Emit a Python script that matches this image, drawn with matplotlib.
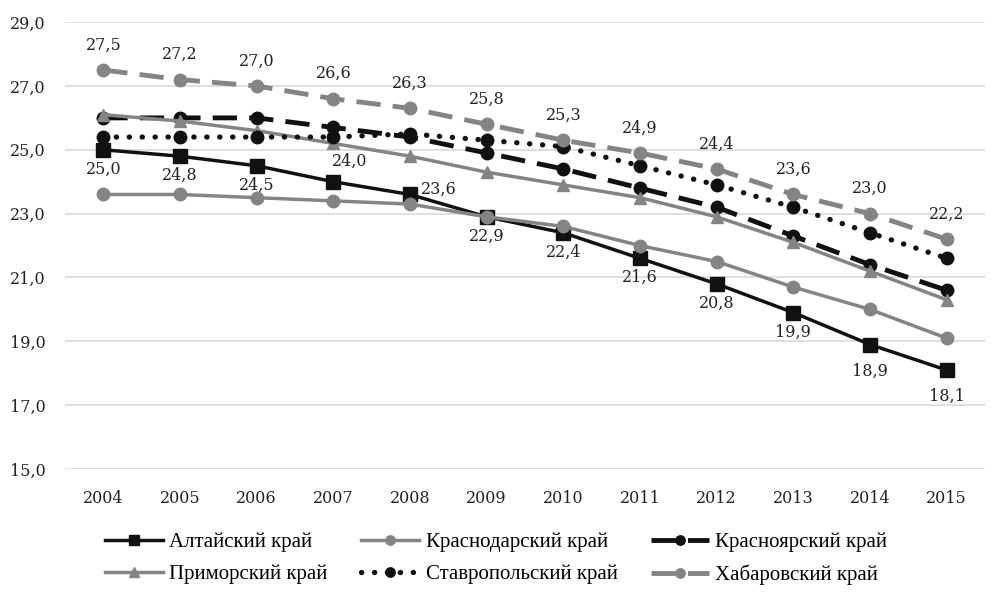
import matplotlib.pyplot as plt

years = [str(y) for y in range(2004, 2016)]

altai = [25.0, 24.8, 24.5, 24.0, 23.6, 22.9, 22.4, 21.6, 20.8, 19.9, 18.9, 18.1]
krasnodar = [23.6, 23.6, 23.5, 23.4, 23.3, 22.9, 22.6, 22.0, 21.5, 20.7, 20.0, 19.1]
krasnoyarsk = [26.0, 26.0, 26.0, 25.7, 25.4, 24.9, 24.4, 23.8, 23.2, 22.3, 21.4, 20.6]
primorye = [26.1, 25.9, 25.6, 25.2, 24.8, 24.3, 23.9, 23.5, 22.9, 22.1, 21.2, 20.3]
stavropol = [25.4, 25.4, 25.4, 25.4, 25.5, 25.3, 25.1, 24.5, 23.9, 23.2, 22.4, 21.6]
khabarovsk = [27.5, 27.2, 27.0, 26.6, 26.3, 25.8, 25.3, 24.9, 24.4, 23.6, 23.0, 22.2]

yticks = [15, 17, 19, 21, 23, 25, 27, 29]

BLACK = '#111111'
GRAY = '#848484'


def fmt(v):
    return f"{v:.1f}".replace('.', ',')


fig = plt.figure(figsize=(10, 5.98), dpi=100)
ax = fig.add_axes([0.065, 0.2157, 0.92, 0.7473])
x = list(range(len(years)))

h_alt, = ax.plot(x, altai, color=BLACK, lw=2.5, marker='s', ms=10,
                 label='Алтайский край')
h_kd, = ax.plot(x, krasnodar, color=GRAY, lw=2.5, marker='o', ms=9,
                label='Краснодарский край')
h_ky, = ax.plot(x, krasnoyarsk, color=BLACK, lw=3.5, marker='o', ms=9,
                dashes=(5, 2.5), label='Красноярский край')
h_pr, = ax.plot(x, primorye, color=GRAY, lw=2.5, marker='^', ms=9,
                label='Приморский край')
h_st, = ax.plot(x, stavropol, color=BLACK, lw=3.8, marker='o', ms=9,
                linestyle=(0, (0.05, 2.4)), dash_capstyle='round',
                label='Ставропольский край')
h_kh, = ax.plot(x, khabarovsk, color=GRAY, lw=3.5, marker='o', ms=9,
                dashes=(5, 2.5), label='Хабаровский край')

lab_font = dict(family='DejaVu Serif', size=11.5, color='#222222')
for i, v in enumerate(altai):
    if i == 3:
        off, ha = (12, 15), 'center'
    elif i == 4:
        off, ha = (8, 4), 'left'
    elif i >= 10:
        off, ha = (0, -19), 'center'
    else:
        off, ha = (0, -14), 'center'
    ax.annotate(fmt(v), (i, v), xytext=off, textcoords='offset points',
                ha=ha, va='center', **lab_font)
for i, v in enumerate(khabarovsk):
    ax.annotate(fmt(v), (i, v), xytext=(0, 18), textcoords='offset points',
                ha='center', va='center', **lab_font)

ax.set_xlim(-0.5, len(years) - 0.5)
ax.set_ylim(15, 29)
ax.set_yticks(yticks)
ax.set_yticklabels([fmt(t) for t in yticks])
ax.set_xticks(x)
ax.set_xticklabels(years)
for lbl in ax.get_xticklabels() + ax.get_yticklabels():
    lbl.set_fontfamily('DejaVu Serif')
    lbl.set_fontsize(11.5)
    lbl.set_color('#222222')
ax.tick_params(length=0)
ax.tick_params(axis='x', pad=15)
ax.tick_params(axis='y', pad=14)
ax.grid(axis='y', color='#d9d9d9', lw=1.2)
ax.set_axisbelow(True)
for s in ax.spines.values():
    s.set_visible(False)

handles = [h_alt, h_pr, h_kd, h_st, h_ky, h_kh]
fig.legend(handles=handles, labels=[h.get_label() for h in handles],
           ncol=3, loc='center', bbox_to_anchor=(0.496, 0.066),
           frameon=False, handlelength=2.8, handletextpad=0.3,
           columnspacing=1.6, labelspacing=0.6, markerscale=0.75,
           prop=dict(family='Liberation Serif', size=15))

fig.savefig('out.png', dpi=100)
